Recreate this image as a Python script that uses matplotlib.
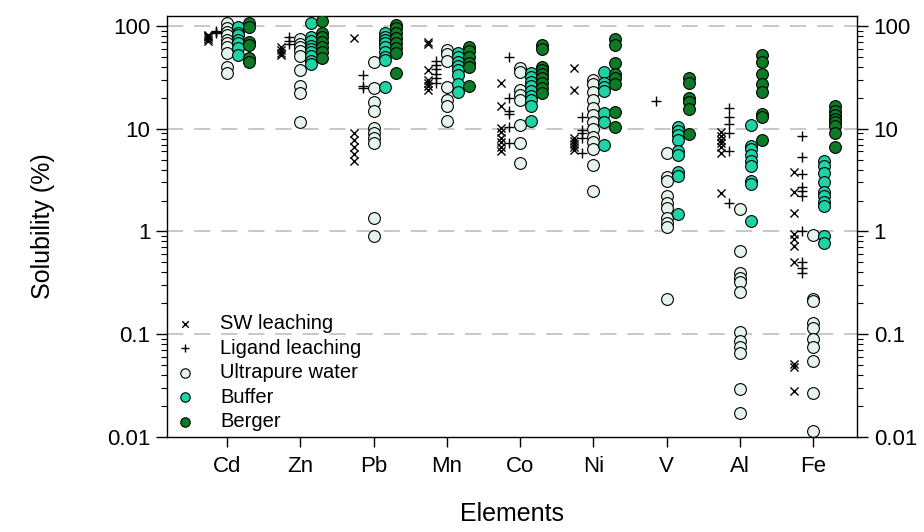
import matplotlib
matplotlib.use("Agg")
import matplotlib.pyplot as plt
from matplotlib.ticker import LogLocator, NullFormatter, FixedLocator, FixedFormatter

plt.rcParams['font.family'] = ['Liberation Sans', 'DejaVu Sans']

# x-axis categories
elements = ['Cd', 'Zn', 'Pb', 'Mn', 'Co', 'Ni', 'V', 'Al', 'Fe']

# solubility (%) per element, one list per element for each method
sw_leaching = [
    [72, 75, 78, 80, 82],
    [52, 55, 58, 62],
    [76, 9.0, 7.8, 6.6, 5.7, 4.9],
    [70, 67, 37, 30, 28, 26, 24],
    [28, 16.5, 10.2, 9.2, 8.2, 7.4, 6.6, 6.0],
    [39, 24, 8.2, 7.6, 7.1, 6.6, 6.2],
    [],
    [9.2, 8.5, 7.8, 7.2, 6.6, 5.8, 2.35],
    [3.8, 2.4, 1.5, 0.95, 0.85, 0.72, 0.5, 0.051, 0.048, 0.028],
]
ligand_leaching = [
    [85, 88, 90],
    [78, 72, 66],
    [33, 26, 25],
    [46, 42, 38, 34, 31, 28],
    [50, 20, 15, 14, 10.3, 7.3],
    [13, 9.8, 9.0, 8.1, 5.8],
    [18.6],
    [16, 13, 11, 9.0, 6.0, 1.9],
    [8.4, 5.3, 3.6, 2.7, 2.5, 2.2, 1.0, 0.5, 0.44, 0.39],
]
ultrapure = [
    [107, 96, 87, 82, 73, 68, 62, 55, 40, 35],
    [75, 67, 62, 57, 51, 37, 26, 22, 11.5],
    [45, 25, 18, 15, 10.2, 9.1, 8.1, 7.2, 1.35, 0.9],
    [58, 53, 46, 25.5, 19, 16.5, 12],
    [39, 36, 24, 21.5, 19, 10.8, 7.3, 4.6],
    [30, 27, 23, 19, 16, 13.5, 11.5, 10, 8.3, 7.5, 6.4, 4.4, 2.45],
    [5.8, 3.4, 3.1, 2.2, 1.9, 1.7, 1.35, 1.2, 1.1, 0.22],
    [1.65, 0.64, 0.39, 0.35, 0.32, 0.26, 0.105, 0.085, 0.075, 0.065, 0.029, 0.017],
    [0.92, 0.22, 0.21, 0.13, 0.115, 0.09, 0.075, 0.055, 0.027, 0.0115],
]
buffer = [
    [98, 86, 82, 73, 68, 61, 52],
    [106, 78, 71, 64, 60, 56, 51, 46, 43],
    [86, 78, 73, 68, 62, 56, 50, 47, 25.5],
    [55, 50, 45, 41, 37, 33, 27, 23],
    [35, 32, 28.5, 26, 23.5, 21, 19, 16.5, 11.8],
    [36, 28, 25.5, 23.5, 14.2, 11.5, 6.9],
    [10.5, 9.6, 8.6, 7.8, 6.0, 5.5, 3.8, 3.5, 1.47],
    [10.8, 6.8, 6.3, 5.6, 4.8, 4.3, 3.1, 2.9, 1.25],
    [4.8, 4.3, 3.7, 3.0, 2.4, 2.2, 1.95, 1.75, 0.9, 0.78],
]
berger = [
    [107, 98, 70, 65, 49, 45],
    [112, 85, 78, 69, 63, 56, 49],
    [102, 96, 86, 76, 68, 61, 55, 35],
    [63, 57, 50, 44, 40, 26],
    [65, 59, 40, 37, 34, 31, 28, 25, 22],
    [74, 65, 44, 34, 31, 27, 14.6, 10.5],
    [31, 28, 20, 18, 15.5, 8.8],
    [52, 45, 34, 27, 23, 14, 13, 7.8],
    [16.5, 15, 13.5, 12.5, 11.5, 10.7, 9, 6.6],
]

fig = plt.figure(figsize=(9.24, 5.32), dpi=100)
ax = fig.add_axes([0.1807, 0.1786, 0.7468, 0.7914])

# horizontal offset of each method inside an element group
offsets = {'sw': -0.26, 'lig': -0.15, 'up': 0.0, 'buf': 0.15, 'ber': 0.30}

for i, el in enumerate(elements):
    xc = i + 1
    ax.scatter([xc + offsets['sw']] * len(sw_leaching[i]), sw_leaching[i],
               marker='x', s=34, c='black', linewidths=1.0, zorder=3,
               label='SW leaching' if i == 0 else None)
    ax.scatter([xc + offsets['lig']] * len(ligand_leaching[i]), ligand_leaching[i],
               marker='+', s=58, c='black', linewidths=1.0, zorder=3,
               label='Ligand leaching' if i == 0 else None)
    ax.scatter([xc + offsets['up']] * len(ultrapure[i]), ultrapure[i],
               marker='o', s=72, facecolor='#e6f5ec', edgecolor='black', linewidths=0.8,
               zorder=3, label='Ultrapure water' if i == 0 else None)
    ax.scatter([xc + offsets['buf']] * len(buffer[i]), buffer[i],
               marker='o', s=72, facecolor='#1ed3a4', edgecolor='black', linewidths=0.8,
               zorder=3, label='Buffer' if i == 0 else None)
    ax.scatter([xc + offsets['ber']] * len(berger[i]), berger[i],
               marker='o', s=72, facecolor='#0d7a25', edgecolor='black', linewidths=0.8,
               zorder=3, label='Berger' if i == 0 else None)

ax.set_yscale('log')
ax.set_ylim(0.01, 125)
ax.set_xlim(0.18, 9.6)

for v in [0.1, 1, 10, 100]:
    ax.axhline(v, color='#c4c4c4', lw=1.3, dashes=(9, 6), zorder=1)

yt = [0.01, 0.1, 1, 10, 100]
ylab = ['0.01', '0.1', '1', '10', '100']
ax.yaxis.set_major_locator(FixedLocator(yt))
ax.yaxis.set_major_formatter(FixedFormatter(ylab))
ax.yaxis.set_minor_locator(LogLocator(base=10, subs=range(2, 10)))
ax.yaxis.set_minor_formatter(NullFormatter())
ax.tick_params(axis='y', which='major', direction='out', length=8, width=1,
               labelsize=16, left=True, right=True, labelleft=True, labelright=True, pad=4)
ax.tick_params(axis='y', which='minor', direction='out', length=4, width=0.8,
               left=True, right=True)

ax.set_xticks(range(1, len(elements) + 1))
ax.set_xticklabels(elements)
ax.tick_params(axis='x', which='major', direction='out', length=7, width=1,
               labelsize=16, pad=7, top=False)
ax.tick_params(axis='x', which='minor', bottom=False, top=False)

for sp in ax.spines.values():
    sp.set_linewidth(1.0)

ax.set_ylabel('Solubility (%)', fontsize=18, va='center')
ax.yaxis.set_label_coords(-0.180, 0.5)
ax.set_xlabel('Elements', fontsize=18, va='center')
ax.xaxis.set_label_coords(0.5, -0.184)

ax.legend(loc='lower left', bbox_to_anchor=(0.0, -0.005), frameon=False, fontsize=14.5,
          handlelength=1.0, handletextpad=1.25, labelspacing=0.27, borderaxespad=0.0,
          borderpad=0.4, markerscale=0.8)

fig.savefig('out.png', dpi=100)
